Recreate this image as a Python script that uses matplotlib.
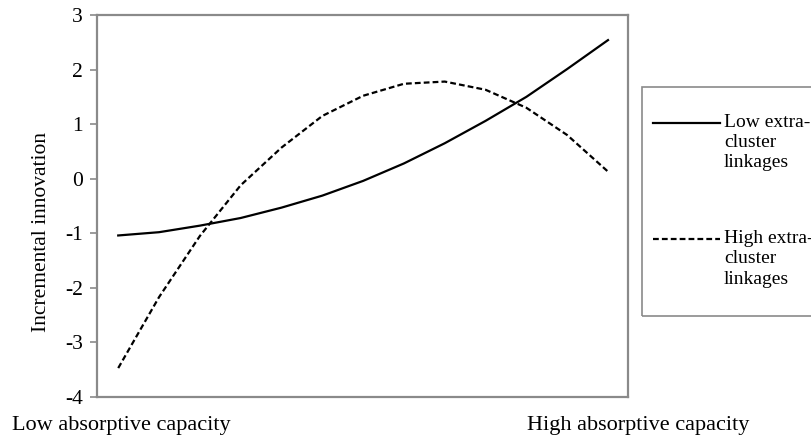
import numpy as np
import matplotlib
matplotlib.use('Agg')
import matplotlib.pyplot as plt
from matplotlib.lines import Line2D
from matplotlib.patches import Rectangle

plt.rcParams['font.family'] = 'Liberation Serif'
plt.rcParams['axes.unicode_minus'] = False

# absorptive capacity levels (low -> high)
capacity = np.arange(13)
low_links = [-1.04, -0.98, -0.86, -0.72, -0.53, -0.31, -0.04, 0.28, 0.65, 1.06, 1.50, 2.01, 2.54]
high_links = [-3.47, -2.17, -1.05, -0.12, 0.57, 1.15, 1.52, 1.74, 1.78, 1.63, 1.30, 0.80, 0.13]
series_labels = ['Low extra-\ncluster\nlinkages', 'High extra-\ncluster\nlinkages']
y_ticks = np.arange(-4, 4, 1)

grey = '#8a8a8a'
solid = dict(color='black', lw=1.6, linestyle='-')
dashed = dict(color='black', lw=1.6, linestyle=(0, (2.6, 1.4)))

fig = plt.figure(figsize=(8.11, 4.38), dpi=100)
ax = fig.add_axes([97/811, 41/438, 531/811, 382/438])

ax.plot(capacity, low_links, **solid)
ax.plot(capacity, high_links, **dashed)

ax.set_xlim(-0.52, 12.49)
ax.set_ylim(-4, 3)
ax.set_yticks(y_ticks)
ax.set_yticklabels([str(v) for v in y_ticks])
ax.tick_params(axis='y', length=5, width=1.2, color=grey, pad=5, labelsize=15.5)
ax.tick_params(axis='x', bottom=False, labelbottom=False)
for s in ax.spines.values():
    s.set_color(grey)
    s.set_linewidth(1.6)

ax.set_ylabel('Incremental innovation', fontsize=15.5, va='center')
ax.yaxis.set_label_coords(-0.1036, 0.432)

fig.text(12/811, 1 - 430/438, 'Low absorptive capacity', fontsize=16, va='baseline')
fig.text(527/811, 1 - 430/438, 'High absorptive capacity', fontsize=16, va='baseline')

# legend box (runs off the right edge like the original)
fig.add_artist(Rectangle((642/811, 1 - 316/438), 200/811, 229/438, fill=False,
                         edgecolor=grey, lw=1.2, transform=fig.transFigure))
for style, lab, yh in [(solid, series_labels[0], 123), (dashed, series_labels[1], 239)]:
    fig.add_artist(Line2D([653/811, 720/811], [1 - yh/438] * 2,
                          transform=fig.transFigure, **style))
    fig.text(724/811, 1 - (yh - 9)/438, lab, fontsize=14, va='top', linespacing=1.25)

plt.savefig('out.png', dpi=100)
